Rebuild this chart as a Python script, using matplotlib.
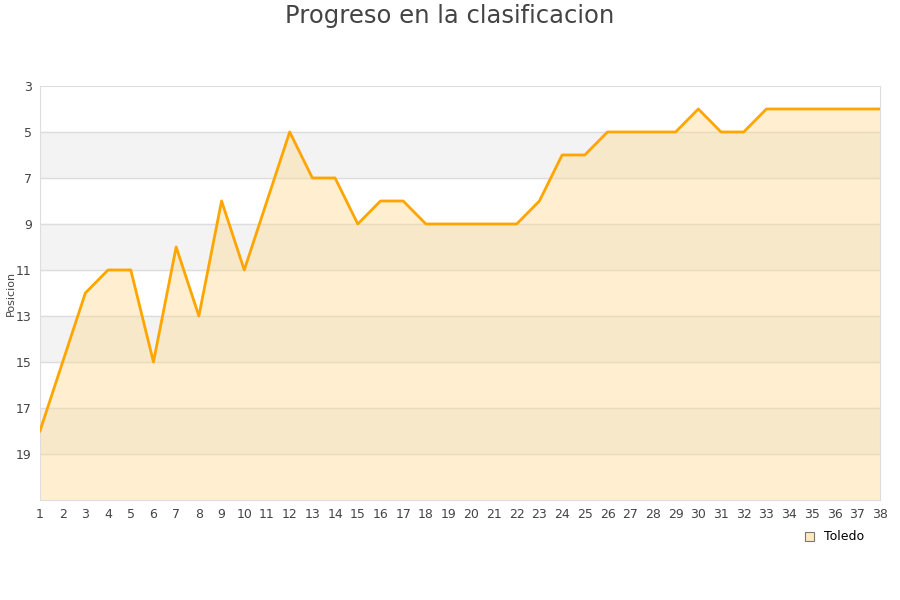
import numpy as np
import matplotlib.pyplot as plt
from matplotlib.patches import Patch

# Datos
jornadas = list(range(1, 39))
posicion = [18, 15, 12, 11, 11, 15, 10, 13, 8, 11, 8, 5, 7, 7, 9, 8, 8, 9, 9, 9,
            9, 9, 8, 6, 6, 5, 5, 5, 5, 4, 5, 5, 4, 4, 4, 4, 4, 4]
y_ticks = [3, 5, 7, 9, 11, 13, 15, 17, 19]
equipo = 'Toledo'

fig = plt.figure(figsize=(9, 6), dpi=100)
ax = fig.add_axes([0.0444, 0.1667, 0.9333, 0.69])

# bandas alternas
for i, lo in enumerate(range(3, 21, 2)):
    if i % 2 == 1:
        ax.axhspan(lo, lo + 2, color='#f3f3f3', zorder=0)
for t in y_ticks[1:]:
    ax.axhline(t, color='#dddddd', lw=1, zorder=1)

ax.fill_between(jornadas, posicion, 21, color='#ffd98a', alpha=0.4, lw=0, zorder=2)
ax.plot(jornadas, posicion, color='#ffa500', lw=2, zorder=3)

ax.set_xlim(1, 38)
ax.set_ylim(21, 3)
ax.set_xticks(jornadas)
ax.set_yticks(y_ticks)
ax.tick_params(length=0, labelsize=9, colors='#444444', pad=6)
ax.tick_params(axis='y', pad=6)
for s in ax.spines.values():
    s.set_color('#dddddd')
ax.set_ylabel('Posicion', fontsize=8, color='#444444')
ax.yaxis.set_label_coords(-0.029, 0.5)

fig.suptitle('Progreso en la clasificacion', fontsize=17.5, color='#444444', y=0.993)

leg = fig.legend(handles=[Patch(facecolor='#ffe9c0', edgecolor='#777777', lw=0.8, label=equipo)],
                 loc='center', bbox_to_anchor=(0.927, 0.105), frameon=False, fontsize=9,
                 handlelength=0.7, handleheight=0.7, handletextpad=0.8)

fig.savefig('out.png', dpi=100)
